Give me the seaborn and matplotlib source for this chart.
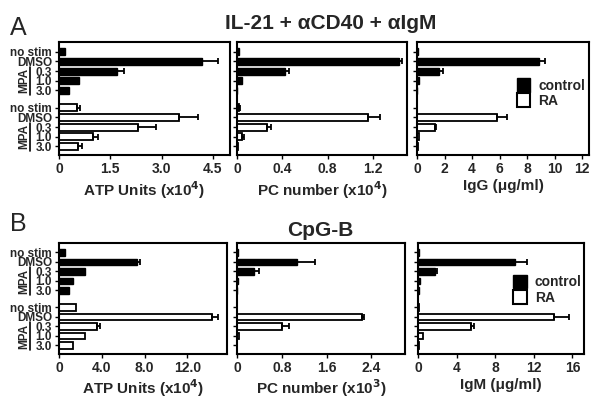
import matplotlib
matplotlib.use("Agg")
import matplotlib.pyplot as plt
import matplotlib.transforms as mtransforms
from matplotlib.patches import Patch
import numpy as np
import seaborn as sns

sns.set_style("ticks")
plt.rcParams["font.family"] = ["Liberation Sans", "DejaVu Sans"]
plt.rcParams["font.weight"] = "bold"
plt.rcParams["axes.labelweight"] = "bold"

# --- data --------------------------------------------------------------------
row_labels = ["no stim", "DMSO", "0.3", "1.0", "3.0"]
ctrl_pos = [0, 1, 2, 3, 4]
ra_pos = [5.8, 6.8, 7.8, 8.8, 9.8]

# Panel A : IL-21 + aCD40 + aIgM
a_atp_ctrl = [0.18, 4.19, 1.71, 0.59, 0.29]
a_atp_ctrl_err = [0, 0.46, 0.20, 0, 0]
a_atp_ra = [0.52, 3.52, 2.31, 0.98, 0.57]
a_atp_ra_err = [0.10, 0.55, 0.54, 0.17, 0.09]

a_pc_ctrl = [0.015, 1.43, 0.425, 0.04, 0.0]
a_pc_ctrl_err = [0, 0.03, 0.035, 0, 0]
a_pc_ra = [0.02, 1.16, 0.264, 0.04, 0.01]
a_pc_ra_err = [0.01, 0.10, 0.036, 0.02, 0]

a_igg_ctrl = [0.05, 8.89, 1.57, 0.17, 0.03]
a_igg_ctrl_err = [0, 0.38, 0.29, 0, 0]
a_igg_ra = [0.02, 5.81, 1.30, 0.17, 0.07]
a_igg_ra_err = [0, 0.73, 0.10, 0, 0]

# Panel B : CpG-B
b_atp_ctrl = [0.6, 7.3, 2.4, 1.35, 0.95]
b_atp_ctrl_err = [0, 0.3, 0, 0, 0]
b_atp_ra = [1.55, 14.3, 3.55, 2.45, 1.35]
b_atp_ra_err = [0, 0.55, 0.25, 0, 0]

b_pc_ctrl = [0.01, 1.08, 0.31, 0.02, 0.0]
b_pc_ctrl_err = [0, 0.32, 0.09, 0, 0]
b_pc_ra = [0.0, 2.23, 0.81, 0.03, 0.0]
b_pc_ra_err = [0, 0.04, 0.12, 0, 0]

b_igm_ctrl = [0.1, 10.1, 1.73, 0.24, 0.1]
b_igm_ctrl_err = [0, 1.2, 0.24, 0, 0]
b_igm_ra = [0.1, 14.1, 5.5, 0.55, 0.12]
b_igm_ra_err = [0, 1.5, 0.3, 0, 0]

# --- figure ------------------------------------------------------------------
fig = plt.figure(figsize=(6.01, 4.05), dpi=100)

rect_top = 0.617
rect_bot = 0.126
h_top = 0.279
h_bot = 0.274
axes_rects = [
    [59 / 601, rect_top, 171 / 601, h_top],
    [237 / 601, rect_top, 170 / 601, h_top],
    [417 / 601, rect_top, 172 / 601, h_top],
    [59 / 601, rect_bot, 168 / 601, h_bot],
    [237 / 601, rect_bot, 168 / 601, h_bot],
    [418 / 601, rect_bot, 166 / 601, h_bot],
]

panels = [
    (a_atp_ctrl, a_atp_ctrl_err, a_atp_ra, a_atp_ra_err, 5.0,
     [0, 1.5, 3.0, 4.5], ["0", "1.5", "3.0", "4.5"], r"ATP Units (x10$\mathbf{^4}$)"),
    (a_pc_ctrl, a_pc_ctrl_err, a_pc_ra, a_pc_ra_err, 1.5,
     [0, 0.4, 0.8, 1.2], ["0", "0.4", "0.8", "1.2"], r"PC number (x10$\mathbf{^4}$)"),
    (a_igg_ctrl, a_igg_ctrl_err, a_igg_ra, a_igg_ra_err, 12.5,
     [0, 2, 4, 6, 8, 10, 12], ["0", "2", "4", "6", "8", "10", "12"], "IgG (\u03bcg/ml)"),
    (b_atp_ctrl, b_atp_ctrl_err, b_atp_ra, b_atp_ra_err, 15.7,
     [0, 4, 8, 12], ["0", "4.0", "8.0", "12.0"], r"ATP Units (x10$\mathbf{^4}$)"),
    (b_pc_ctrl, b_pc_ctrl_err, b_pc_ra, b_pc_ra_err, 3.0,
     [0, 0.8, 1.6, 2.4], ["0", "0.8", "1.6", "2.4"], r"PC number (x10$\mathbf{^3}$)"),
    (b_igm_ctrl, b_igm_ctrl_err, b_igm_ra, b_igm_ra_err, 17.2,
     [0, 4, 8, 12, 16], ["0", "4", "8", "12", "16"], "IgM (\u03bcg/ml)"),
]


def draw_errors(ax, vals, errs, pos):
    v = np.array(vals)
    e = np.array(errs)
    p = np.array(pos)
    keep = e > 0
    if keep.any():
        ax.errorbar(v[keep], p[keep], xerr=[np.zeros(keep.sum()), e[keep]],
                    fmt="none", ecolor="black", elinewidth=1.3,
                    capsize=2.2, capthick=1.3, zorder=3)


axes = []
for i, (rect, panel) in enumerate(zip(axes_rects, panels)):
    c_vals, c_err, r_vals, r_err, xmax, xt, xtl, xlab = panel
    ax = fig.add_axes(rect)
    axes.append(ax)

    sns.barplot(x=c_vals, y=ctrl_pos, orient="h", native_scale=True,
                color="black", edgecolor="black", linewidth=1.0,
                width=0.72, errorbar=None, ax=ax)
    sns.barplot(x=r_vals, y=ra_pos, orient="h", native_scale=True,
                color="white", edgecolor="black", linewidth=1.3,
                width=0.72, errorbar=None, ax=ax)
    draw_errors(ax, c_vals, c_err, ctrl_pos)
    draw_errors(ax, r_vals, r_err, ra_pos)

    ax.set_xlim(0, xmax)
    ax.set_ylim(10.7, -1.0)
    ax.set_xticks(xt)
    ax.set_xticklabels(xtl, fontsize=10, fontweight="bold")
    ax.set_xlabel(xlab, fontsize=11, fontweight="bold", labelpad=2)
    ax.set_ylabel("")
    ax.set_yticks(ctrl_pos + ra_pos)
    if i % 3 == 0:
        ax.set_yticklabels(row_labels + row_labels, fontsize=8.5,
                           fontweight="bold")
        # MPA bracket
        trans = mtransforms.blended_transform_factory(ax.transAxes, ax.transData)
        for group in (ctrl_pos, ra_pos):
            ax.plot([-0.17, -0.17], [group[2] - 0.45, group[4] + 0.45],
                    color="black", lw=1.2, transform=trans, clip_on=False)
            ax.text(-0.205, group[3], "MPA", rotation=90, ha="center",
                    va="center", fontsize=8.5, fontweight="bold",
                    transform=trans)
    else:
        ax.set_yticklabels([])
    ax.tick_params(axis="both", direction="out", length=3, width=1.0,
                   color="black", pad=2)
    for sp in ax.spines.values():
        sp.set_visible(True)
        sp.set_color("black")
        sp.set_linewidth(1.5)

# legends
handles = [Patch(facecolor="black", edgecolor="black", label="control"),
           Patch(facecolor="white", edgecolor="black", linewidth=1.5, label="RA")]
for ax, loc in ((axes[2], (0.58, 0.55)), (axes[5], (0.575, 0.58))):
    ax.legend(handles=handles, loc="center left", bbox_to_anchor=loc,
              frameon=False, prop={"weight": "bold", "size": 10},
              handlelength=0.95, handleheight=1.15, handletextpad=0.6,
              labelspacing=0.05, borderaxespad=0, borderpad=0)

# panel letters and titles
fig.text(0.017, 0.96, "A", fontsize=18, fontweight="normal", va="top")
fig.text(0.017, 0.477, "B", fontsize=18, fontweight="normal", va="top")
fig.text(0.55, 0.965, "IL-21 + \u03b1CD40 + \u03b1IgM", fontsize=15,
         fontweight="bold", ha="center", va="top")
fig.text(0.533, 0.455, "CpG-B", fontsize=15, fontweight="bold",
         ha="center", va="top")

fig.savefig("out.png", dpi=100)
